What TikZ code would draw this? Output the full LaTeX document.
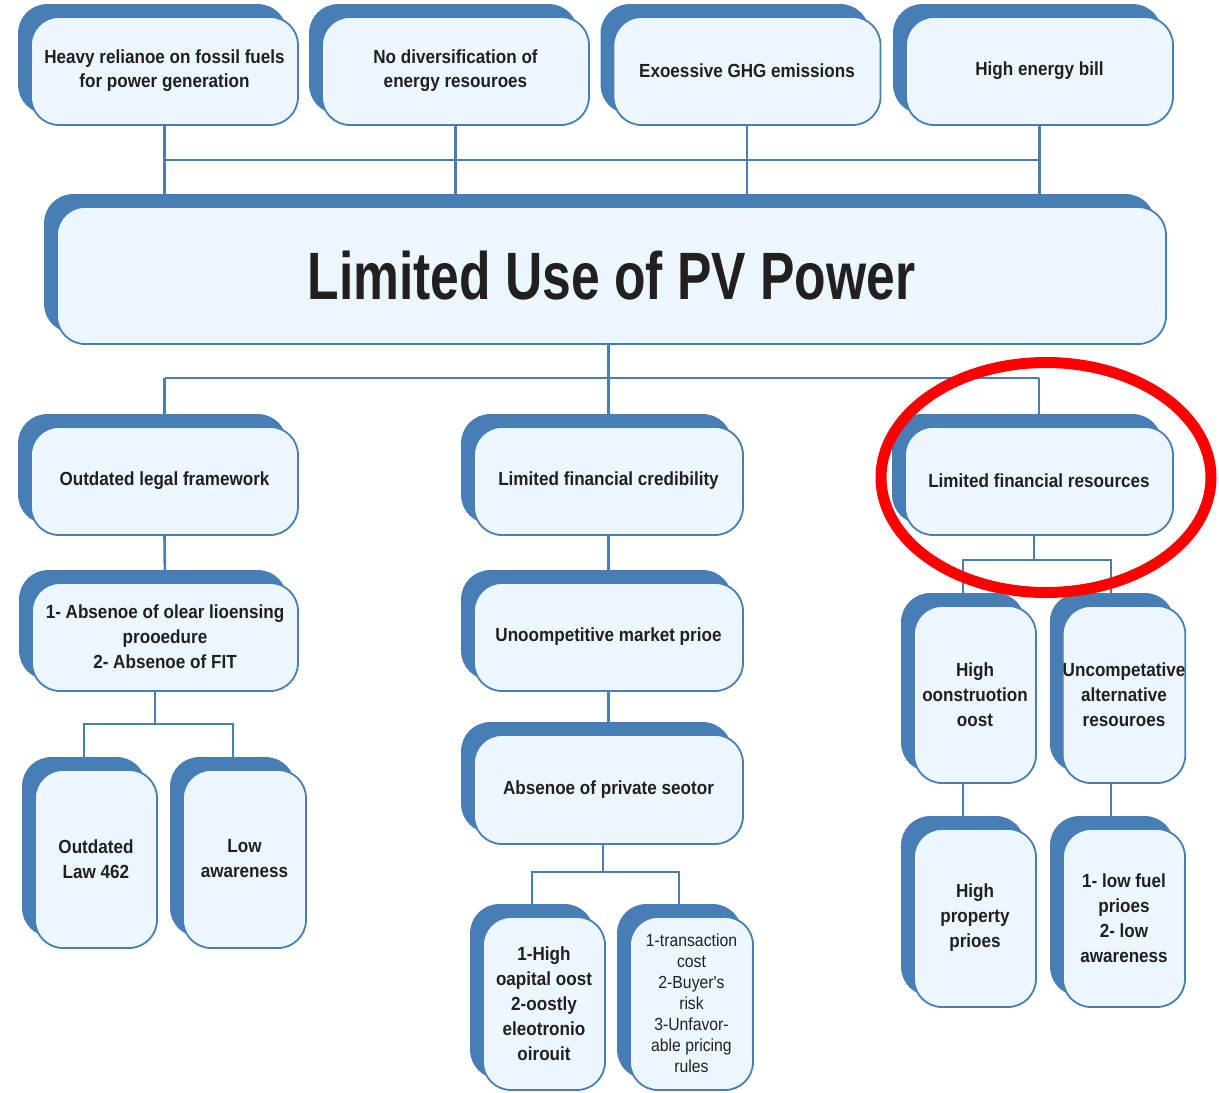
\documentclass[tikz,border=0pt]{standalone}
\usepackage{fontspec}
\usetikzlibrary{shadows}
\newfontfamily\bodyfont{Liberation Sans}[FakeStretch=0.9]
\newfontfamily\titlefont{Liberation Sans}[FakeStretch=0.77]
\definecolor{bblue}{RGB}{72,126,182}
\definecolor{bfill}{RGB}{236,247,253}
\definecolor{txt}{RGB}{35,31,32}
\tikzset{
  pvbox/.style={draw=bblue, fill=bfill, line width=1.8pt, rounded corners=28pt,
    inner sep=0pt, align=center, text=txt,
    font=\bodyfont\bfseries\fontsize{19}{25}\selectfont,
    copy shadow={shadow xshift=-12pt, shadow yshift=12pt, draw=bblue, fill=bblue}},
  wide/.style={minimum width=267pt, minimum height=108pt},
  tall/.style={minimum width=122pt, minimum height=178pt},
  conn/.style={draw=bblue, line width=2.6pt},
  thinconn/.style={draw=bblue, line width=1.6pt},
}
\begin{document}
\begin{tikzpicture}[x=1pt,y=-1pt]
\useasboundingbox (0,0) rectangle (1219,1093);
% connectors (drawn first)
\coordinate (hbar) at (0,160);
\coordinate (mbar) at (0,378);
\coordinate (sa) at (155,724);
\coordinate (sa1) at (84,724);
\coordinate (sa2) at (233,724);
\coordinate (sb) at (603,872);
\coordinate (sb1) at (532,872);
\coordinate (sb2) at (679,872);
\coordinate (sc) at (1034,560);
\coordinate (sc1) at (963,560);
\coordinate (sc2) at (1111,560);

% top row
\node[pvbox, wide, font=\bodyfont\bfseries\fontsize{19}{24}\selectfont] (t1) at (164.5,71) {Heavy relianoe on fossil fuels\\for power generation};
\node[pvbox, wide, font=\bodyfont\bfseries\fontsize{19}{24}\selectfont] (t2) at (455.5,71) {No diversification of\\energy resouroes};
\node[pvbox, wide] (t3) at (747,71) {Exoessive GHG emissions};
\node[pvbox, wide] (t4) at (1039.5,71) {High energy bill};

% main
\node[pvbox, minimum width=1109pt, minimum height=137pt,
  font=\titlefont\bfseries\fontsize{67}{70}\selectfont] (main) at (611.5,275.5) {Limited Use of PV Power};

% level 2
\node[pvbox, wide] (A) at (164.5,481) {Outdated legal framework};
\node[pvbox, wide, minimum width=269pt] (B) at (608.5,481) {Limited financial credibility};
\node[pvbox, wide, minimum width=268pt] (C) at (1039,481) {Limited financial resources};

% level 3
\node[pvbox, wide, minimum width=266pt] (A2) at (165,637) {1- Absenoe of olear lioensing\\prooedure\\2- Absenoe of FIT};
\node[pvbox, wide, minimum width=269pt] (B2) at (608.5,637) {Unoompetitive market prioe};
\node[pvbox, wide, minimum width=269pt, minimum height=109pt] (B3) at (608.5,789.5) {Absenoe of private seotor};

% bottom
\node[pvbox, tall] (A3) at (96,859) {Outdated\\Law 462};
\node[pvbox, tall, minimum width=123pt] (A4) at (244.5,859) {Low\\awareness};
\node[pvbox, tall, minimum height=173pt] (B4) at (544,1003.5) {1-High\\oapital oost\\2-oostly\\eleotronio\\oirouit};
\node[pvbox, tall, minimum width=123pt, minimum height=173pt,
  font=\bodyfont\fontsize{17.5}{21}\selectfont] (B5) at (691.5,1003.5) {1-transaction\\cost\\2-Buyer's\\risk\\3-Unfavor-\\able pricing\\rules};
\node[pvbox, tall, minimum height=177pt] (C2) at (975,694.5) {High\\oonstruotion\\oost};
\node[pvbox, tall, minimum height=177pt] (C3) at (1124,694.5) {Uncompetative\\alternative\\resouroes};
\node[pvbox, tall] (C4) at (975,918) {High\\property\\prioes};
\node[pvbox, tall] (C5) at (1124,918) {1- low fuel\\prioes\\2- low\\awareness};

% connectors
\draw[conn] (t1.south) -- (t1.south |- main.north);
\draw[conn] (t2.south) -- (t2.south |- main.north);
\draw[conn] (t3.south) -- (t3.south |- main.north);
\draw[conn] (t4.south) -- (t4.south |- main.north);
\draw[conn] (t1.south |- hbar) -- (t4.south |- hbar);

\draw[conn] (B.north |- main.south) -- (B.north);
\draw[conn] (A.north |- mbar) -- (C.north |- mbar);
\draw[conn] (A.north |- mbar) -- (A.north);
\draw[conn] (C.north |- mbar) -- (C.north);

\draw[conn] (A.south) -- (A2.north);
\draw[conn] (B.south) -- (B2.north);
\draw[conn] (B2.south) -- (B3.north);

\draw[thinconn] (sa |- A2.south) -- (sa);
\draw[thinconn] (sa1 |- A3.north) -- (sa1) -- (sa2) -- (sa2 |- A4.north);

\draw[thinconn] (sb |- B3.south) -- (sb);
\draw[thinconn] (sb1 |- B4.north) -- (sb1) -- (sb2) -- (sb2 |- B5.north);

\draw[thinconn] (sc |- C.south) -- (sc);
\draw[thinconn] (sc1 |- C2.north) -- (sc1) -- (sc2) -- (sc2 |- C3.north);
\draw[thinconn] (sc1 |- C2.south) -- (sc1 |- C4.north);
\draw[thinconn] (sc2 |- C3.south) -- (sc2 |- C5.north);

% red annotation
\draw[red, line width=11pt] (1046,477.5) ellipse [x radius=165pt, y radius=115pt];
\end{tikzpicture}
\end{document}
